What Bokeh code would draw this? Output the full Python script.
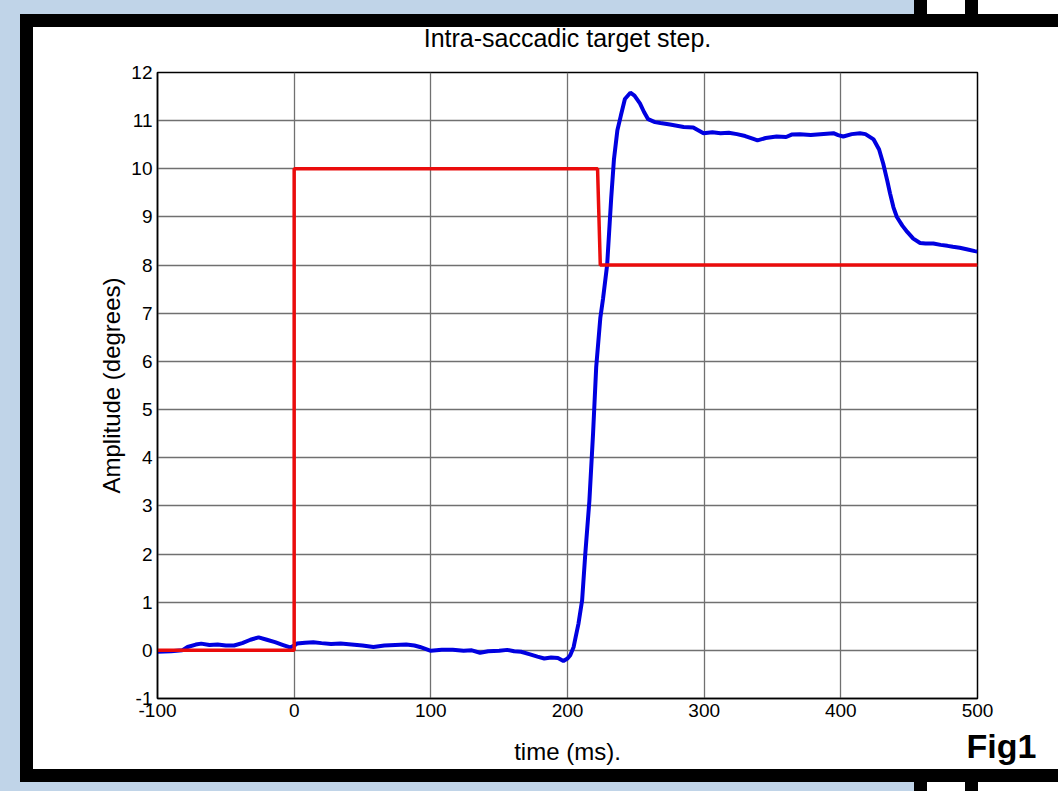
from bokeh.plotting import figure
from bokeh.models import Label, Range1d
from bokeh.embed import file_html
from bokeh.resources import INLINE

# ---- data ----
target_t = [-100, 0, 0, 222, 224, 500]
target_deg = [0, 0, 10, 10, 8, 8]

eye_t = [-100, -90, -82, -78, -72, -68, -62, -56, -50, -44, -38, -32, -26, -20, -14, -8, -3,
         0, 2, 8, 14, 20, 27, 34, 42, 50, 58, 66, 74, 82, 88, 92, 97, 100, 108, 116, 124, 130,
         136, 142, 150, 156, 161, 166, 172, 178, 183, 188, 193, 197, 200, 202, 204.5, 206, 208,
         210.7, 213, 216, 218.7, 221, 224, 226, 229, 232, 234, 236.5, 239, 242, 246, 249, 253,
         256, 259, 264, 268, 275, 285, 292, 299.5, 306, 312, 318, 324, 330, 336, 339, 345, 353,
         360, 364, 370, 378, 385, 394.6, 398, 401.8, 408, 414, 418, 424, 428, 431, 434, 436,
         438.5, 441, 445, 448.6, 453, 458, 462, 467.7, 473, 478, 482, 487, 492, 498, 500]
eye_deg = [-0.03, -0.02, 0.0, 0.07, 0.12, 0.14, 0.11, 0.12, 0.10, 0.10, 0.15, 0.22, 0.27, 0.22,
           0.17, 0.11, 0.06, 0.10, 0.14, 0.16, 0.17, 0.15, 0.13, 0.14, 0.12, 0.10, 0.07, 0.10,
           0.11, 0.12, 0.10, 0.07, 0.02, -0.01, 0.01, 0.01, -0.01, 0.0, -0.05, -0.02, -0.01,
           0.01, -0.02, -0.03, -0.08, -0.13, -0.17, -0.15, -0.16, -0.22, -0.17, -0.10, 0.07,
           0.28, 0.55, 1.04, 2.0, 3.1, 4.5, 5.88, 6.9, 7.3, 8.0, 9.4, 10.2, 10.8, 11.1, 11.45,
           11.58, 11.52, 11.36, 11.18, 11.03, 10.97, 10.95, 10.92, 10.87, 10.86, 10.74, 10.76,
           10.74, 10.75, 10.72, 10.68, 10.62, 10.59, 10.64, 10.67, 10.66, 10.71, 10.72, 10.70,
           10.72, 10.74, 10.70, 10.67, 10.72, 10.74, 10.72, 10.61, 10.40, 10.11, 9.75, 9.49,
           9.2, 9.0, 8.82, 8.69, 8.55, 8.46, 8.45, 8.45, 8.42, 8.40, 8.38, 8.36, 8.33, 8.29, 8.28]

x_ticks = [-100, 0, 100, 200, 300, 400, 500]
x_tick_labels = ["-100", "0", "100", "200", "300", "400", "500"]
y_ticks = list(range(-1, 13))
y_tick_labels = ["-1"] + [str(v) for v in range(0, 13)]

FONT = "Liberation Sans"

# page decoration: light-blue page, thick black frame, white sheet
page_bg = ("linear-gradient(#ffffff,#ffffff) 33px 27px / 1025px 742px no-repeat, "
           "linear-gradient(#000000,#000000) 20px 14px / 1038px 768px no-repeat, "
           "linear-gradient(to right, #c0d4e8 914px, #000000 914px, #000000 927px, "
           "#ffffff 927px, #ffffff 965px, #000000 965px, #000000 978px, #ffffff 978px)")

p = figure(width=1058, height=791, output_backend="svg", toolbar_location=None,
           x_range=Range1d(-100, 500), y_range=Range1d(-1, 12),
           min_border_left=157, min_border_right=81, min_border_top=72, min_border_bottom=93,
           border_fill_color=None, background_fill_color="white",
           title="Intra-saccadic target step.",
           styles={"background": page_bg})

p.line(eye_t, eye_deg, line_color="#0000e0", line_width=4)
p.line(target_t, target_deg, line_color="#ea0c0c", line_width=3.5)

p.title.align = "center"
p.title.text_font = FONT
p.title.text_font_size = "25px"
p.title.text_font_style = "normal"
p.title.text_color = "black"
p.title.standoff = 42

for ax in (p.xaxis[0], p.yaxis[0]):
    ax.axis_line_color = "black"
    ax.axis_line_width = 1.5
    ax.major_tick_in = 0
    ax.major_tick_out = 0
    ax.minor_tick_line_color = None
    ax.major_label_text_font = FONT
    ax.major_label_text_font_size = "19px"
    ax.major_label_text_color = "black"
    ax.axis_label_text_font = FONT
    ax.axis_label_text_font_size = "24px"
    ax.axis_label_text_font_style = "normal"
    ax.axis_label_text_color = "black"

p.xaxis.ticker = x_ticks
p.yaxis.ticker = y_ticks
p.xaxis.major_label_overrides = dict(zip(x_ticks, x_tick_labels))
p.yaxis.major_label_overrides = dict(zip(y_ticks, y_tick_labels))
p.xaxis.axis_label = "time (ms)."
p.yaxis.axis_label = "Amplitude (degrees)"
p.xaxis.major_label_standoff = 5
p.yaxis.major_label_standoff = 5
p.xaxis.axis_label_standoff = 18
p.yaxis.axis_label_standoff = 3

p.grid.grid_line_color = "#707070"
p.grid.grid_line_width = 1.3

p.outline_line_color = "black"
p.outline_line_width = 1.5

# "Fig1" tag, anchored at the lower-right corner of the plot frame; placed in the
# right side panel so that it is not clipped to the data frame
p.add_layout(Label(x=x_ticks[-1], y=y_ticks[0], x_offset=-11, y_offset=-47, text="Fig1",
                   text_font=FONT, text_font_size="34px", text_font_style="bold",
                   text_color="black", text_baseline="alphabetic"), "right")

open("out.html", "w").write(file_html(p, INLINE))
